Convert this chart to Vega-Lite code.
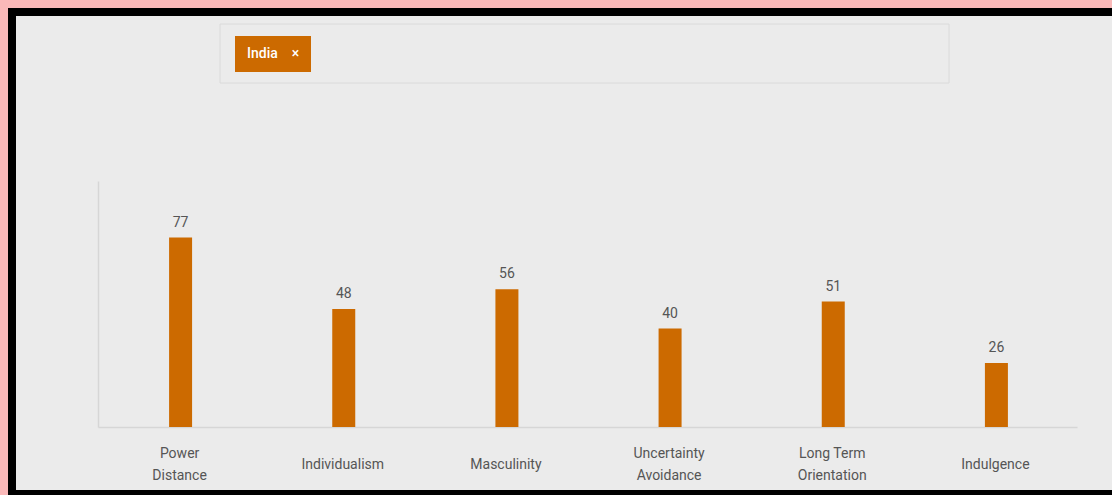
{
  "$schema": "https://vega.github.io/schema/vega-lite/v6.json",
  "autosize": {"type": "none"},
  "width": 1100,
  "height": 482,
  "padding": {"left": 12, "top": 12, "right": 0, "bottom": 1},
  "background": "#fab9b9",
  "config": {
    "view": {"fill": "#ebebeb", "stroke": "#000000", "strokeWidth": 8, "strokeDash": [1100, 482, 1582, 0], "strokeCap": "square"},
    "font": "Roboto"
  },
  "data": {
    "values": [
      {"country": "India", "dimension": "Power Distance", "score": 77},
      {"country": "India", "dimension": "Individualism", "score": 48},
      {"country": "India", "dimension": "Masculinity", "score": 56},
      {"country": "India", "dimension": "Uncertainty Avoidance", "score": 40},
      {"country": "India", "dimension": "Long Term Orientation", "score": 51},
      {"country": "India", "dimension": "Indulgence", "score": 26}
    ]
  },
  "encoding": {
    "x": {
      "field": "dimension",
      "type": "nominal",
      "sort": null,
      "scale": {"range": [86, 1065], "paddingInner": 0, "paddingOuter": 0},
      "axis": {
        "orient": "bottom",
        "offset": -67,
        "title": null,
        "ticks": false,
        "tickSize": 0,
        "labelPadding": {"condition": {"test": "indexof(['Individualism', 'Masculinity', 'Indulgence'], datum.value) >= 0", "value": 37}, "value": 26},
        "labelBaseline": "middle",
        "labelAngle": 0,
        "labelFont": "Roboto",
        "labelFontSize": 14,
        "labelColor": "#555555",
        "labelLineHeight": 22,
        "labelLimit": 300,
        "labelExpr": "datum.label == 'Power Distance' ? ['Power', 'Distance'] : datum.label == 'Uncertainty Avoidance' ? ['Uncertainty', 'Avoidance'] : datum.label == 'Long Term Orientation' ? ['Long Term', 'Orientation'] : datum.label",
        "domainColor": "#d6d6d6",
        "domainWidth": 1.5
      }
    },
    "y": {
      "field": "score",
      "type": "quantitative",
      "scale": {"domain": [0, 100], "range": [415, 169], "nice": false},
      "axis": {
        "orient": "left",
        "offset": -86,
        "title": null,
        "labels": false,
        "ticks": false,
        "grid": false,
        "domainColor": "#d6d6d6",
        "domainWidth": 1.5
      }
    }
  },
  "layer": [
    {
      "mark": {"type": "bar", "width": 23, "xOffset": 1},
      "encoding": {
        "fill": {
          "field": "country",
          "type": "nominal",
          "scale": {"range": ["#cc6a00"]},
          "legend": {
            "orient": "none",
            "legendX": 223,
            "legendY": 24,
            "title": null,
            "fillColor": "#cc6a00",
            "padding": 11,
            "labelColor": "#ffffff",
            "labelFont": "Roboto",
            "labelFontSize": 14,
            "labelFontWeight": 500,
            "symbolSize": 1,
            "symbolOpacity": 0,
            "symbolStrokeWidth": 0,
            "labelOffset": -13,
            "labelExpr": "datum.label + '\u00a0\u00a0\u00a0\u00a0×\u00a0'"
          }
        }
      }
    },
    {
      "mark": {"type": "text", "dy": -11, "xOffset": 1, "baseline": "alphabetic", "fontSize": 14, "color": "#555555", "font": "Roboto"},
      "encoding": {
        "text": {"field": "score", "type": "quantitative"},
        "stroke": {
          "field": "score",
          "type": "quantitative",
          "scale": {"range": ["rgba(235,235,235,0)", "rgba(235,235,235,0)"]},
          "legend": {
            "orient": "none",
            "legendX": 208,
            "legendY": 12,
            "title": null,
            "direction": "horizontal",
            "gradientLength": 729,
            "gradientThickness": 59,
            "gradientStrokeColor": "#dadada",
            "gradientStrokeWidth": 1,
            "padding": 0,
            "labelOpacity": 0,
            "labelExpr": "''"
          }
        }
      }
    }
  ]
}
